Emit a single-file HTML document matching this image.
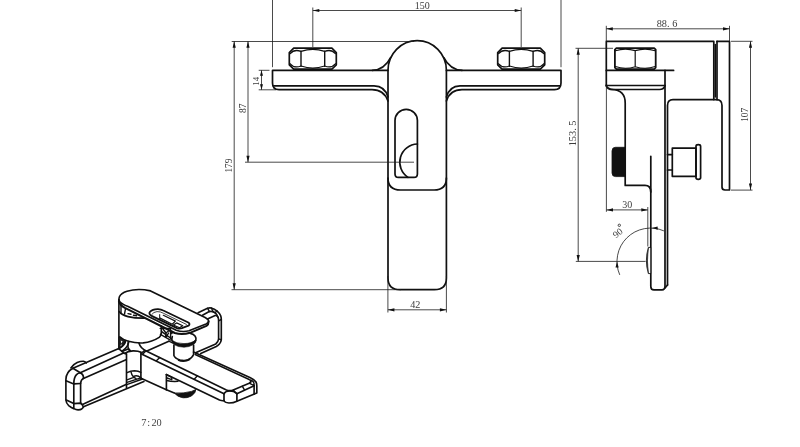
<!DOCTYPE html>
<html><head><meta charset="utf-8"><style>
html,body{margin:0;padding:0;background:#fff;}
body{width:800px;height:447px;overflow:hidden;font-family:"Liberation Serif",serif;}
svg{display:block;position:absolute;left:0;top:0;}

.o{fill:none;stroke:#111;stroke-width:1.7;stroke-linecap:round;stroke-linejoin:round;}
.t{fill:none;stroke:#111;stroke-width:1.2;stroke-linecap:round;stroke-linejoin:round;}
.iso .o{stroke-width:1.65}.iso .t{stroke-width:1.4}
.d{fill:none;stroke:#1c1c1c;stroke-width:0.8;}
.a{fill:#111;stroke:none;}
text{font-family:"Liberation Serif",serif;font-size:9.6px;fill:#3c3c3c;text-anchor:middle;}
</style></head><body>
<svg width="800" height="447" viewBox="0 0 800 447">
<rect width="800" height="447" fill="#fff"/>
<g opacity="0.999">
<defs>
<g id="nut">
<path class="o" style="stroke-width:1.7" d="M4.4,0 H42.6 L47,4.4 V16.6 L42.6,21 H4.4 L0,16.6 V4.4 Z"/>
<path class="t" style="stroke-width:1.4" d="M11.7,3 V18 M35.4,3 V18"/>
<path class="t" style="stroke-width:1.3" d="M0.9,5.4 Q5,0.6 11.7,3.2 Q23.5,-1 35.4,3.2 Q42,0.6 46.1,5.4"/>
<path class="t" style="stroke-width:1.3" d="M0.9,15.6 Q5,20.4 11.7,17.8 Q23.5,22 35.4,17.8 Q42,20.4 46.1,15.6"/>
</g>
</defs>

<!-- ===== FRONT VIEW ===== -->
<g id="front">
<use href="#nut" x="289.3" y="48.2"/>
<use href="#nut" x="497.7" y="48.2"/>
<!-- bar left -->
<path class="o" d="M388,70.4 H272.5 V83 Q272.5,89.6 279,89.6 H372 Q384,89.6 388,101"/>
<path class="o" d="M273.5,85.8 H374 Q385,86 388,97"/>
<!-- bar right -->
<path class="o" d="M446.4,70.4 H561 V83 Q561,89.6 554.5,89.6 H462 Q450,89.6 446.4,101"/>
<path class="o" d="M560,85.8 H460 Q449.5,86 446.4,97"/>
<!-- top fillets -->
<path class="o" d="M372.5,70.4 Q384.5,69.6 390.6,57.6"/>
<path class="o" d="M462,70.4 Q450,69.6 443.8,57.6"/>
<!-- handle -->
<path class="o" d="M388,70.3 A29.2,29.6 0 0 1 446.4,70.3 V178 Q446.4,190 434,190 H400.5 Q388,190 388,178 Z"/>
<!-- spout -->
<path class="o" d="M388,178 V278 Q388,289.7 400,289.7 H434.4 Q446.4,289.7 446.4,278 V178"/>
<!-- slot -->
<path class="o" d="M395,120.5 A11.2,11.2 0 0 1 417.4,120.5 V174 Q417.4,177.4 414,177.4 H398.4 Q395,177.4 395,174 Z"/>
<path class="o" d="M417.4,144 A18.2,18.2 0 0 0 408,177.4"/>
</g>

<!-- ===== FRONT DIMS ===== -->
<g id="fdims">
<path class="d" d="M231.7,41.5 H414"/>
<path class="d" d="M234.2,41.3 V289.7 M248,41.3 V162.2"/>
<path class="d" d="M245,162.2 H414"/>
<path class="d" d="M231.5,289.7 H401"/>
<path class="d" d="M272.5,0 V67.2 M561,0 V67.2"/>
<path class="d" d="M312.8,7.5 V47 M521.2,7.5 V47 M312.8,10.5 H521.2"/>
<path class="d" d="M258.7,70.3 H269.5 M258.7,89.8 H276 M261.5,70.3 V89.8"/>
<path class="d" d="M387.9,276 V312.5 M446.4,276 V312.5 M387.9,309.8 H446.4"/>
<path class="a" d="M234.2,41.3 l-1.6,6.5 h3.2z M248,41.3 l-1.6,6.5 h3.2z M234.2,289.7 l-1.6,-6.5 h3.2z M248,162.2 l-1.6,-6.5 h3.2z"/>
<path class="a" d="M312.8,10.5 l6.5,-1.6 v3.2z M521.2,10.5 l-6.5,-1.6 v3.2z"/>
<path class="a" d="M261.5,70.3 l-1.5,5.5 h3z M261.5,89.8 l-1.5,-5.5 h3z"/>
<path class="a" d="M387.9,309.8 l6.5,-1.6 v3.2z M446.4,309.8 l-6.5,-1.6 v3.2z"/>
<text x="422.2" y="8.8" style="font-size:10px">150</text>
<text x="415.3" y="307.8" style="font-size:10.2px">42</text>
<text transform="translate(245.9,108.3) rotate(-90)" style="font-size:9.5px">87</text>
<text transform="translate(232.4,165.6) rotate(-90)" style="font-size:9.3px">179</text>
<text transform="translate(259,81.3) rotate(-90)" style="font-size:8.9px">14</text>
</g>

<!-- ===== SIDE VIEW ===== -->
<g id="side">
<path class="o" style="stroke-width:1.8" d="M616.4,48.2 H654.2 L655.7,49.7 V67.6 L654.2,69.1 H616.4 L614.9,67.6 V49.7 Z"/>
<path class="t" d="M635.2,50.6 V66.8 M615.4,50.8 Q625,47.4 635.2,50.6 Q645.5,47.4 655.2,50.8 M615.4,66.5 Q625,69.9 635.2,66.7 Q645.5,69.9 655.2,66.5"/>
<path class="o" d="M606.3,86 V41.4 H713.8 V99.6"/>
<path class="o" d="M717,41.4 H729.5 V190 H725 Q722,190 722,187 V105.5 Q722,99.7 716.5,99.7 H673 Q667.5,99.7 667.5,105.5 V285"/>
<path class="o" d="M717,41.4 V99.7"/>
<path class="o" style="stroke-width:1.6" d="M715.3,44.6 V97"/>
<path class="o" d="M606.3,70.4 H673.6"/>
<path class="o" d="M606.3,85.5 H665"/>
<path class="o" d="M606.3,85 Q607,89.5 613,89.5 H659.5 Q664,89.5 665,85.5"/>
<path class="o" d="M612,89.5 Q625.2,90 625.2,103 V185.4 H645 Q650.8,185.4 650.8,192 V286.5 Q650.8,289.9 654,289.9 H662 Q665,289.9 665,286 V70.4"/>
<path class="o" d="M650.8,156.4 V192"/>
<path class="o" d="M667.5,285 L665,288"/>
<!-- black knob -->
<path d="M625.2,147.3 H615.5 Q612,147.3 612,151 V173 Q612,176.6 615.5,176.6 H625.2 Z" fill="#111" stroke="#111" stroke-width="0.8"/>
<!-- button -->
<path class="o" d="M667.5,154.6 H672.3 M667.5,170 H672.3"/>
<path class="o" d="M672.3,148.2 H696 V176.3 H672.3 Z"/>
<path class="o" d="M696,146.2 Q696,144.6 698.3,144.6 Q700.6,144.6 700.6,146.2 V177.7 Q700.6,179.3 698.3,179.3 Q696,179.3 696,177.7 Z"/>
<!-- aerator -->
<path d="M650.8,247.4 H648.3 Q644.5,260.5 648.3,273.6 H650.8 Z" fill="#444" stroke="#111" stroke-width="0.8"/>
<path d="M650.2,248 H649 Q647,260.5 649,273 H650.2 Z" fill="#fff" stroke="none"/>
</g>

<!-- ===== SIDE DIMS ===== -->
<g id="sdims">
<path class="d" d="M606.3,25.8 V41 M729.5,25.8 V41 M606.3,28.8 H729.5"/>
<path class="d" d="M731,41.3 H752.5 M731,190.1 H752.5 M750.5,41.3 V190.1"/>
<path class="d" d="M575.5,48.3 H613 M578.2,48.3 V261.4 M575.8,261.4 H645.6"/>
<path class="d" d="M606.4,86 V211.8 M647.8,207 V246.5 M606.5,209.9 H647.8"/>
<path class="d" d="M663.9,230.9 A33.5,33.5 0 0 0 619.75,274.9"/>
<path class="a" d="M606.3,28.8 l6.5,-1.6 v3.2z M729.5,28.8 l-6.5,-1.6 v3.2z"/>
<path class="a" d="M750.5,41.3 l-1.6,6.5 h3.2z M750.5,190.1 l-1.6,-6.5 h3.2z"/>
<path class="a" d="M578.2,48.3 l-1.6,6.5 h3.2z M578.2,261.4 l-1.6,-6.5 h3.2z"/>
<path class="a" d="M606.5,209.9 l6.5,-1.6 v3.2z M647.8,209.9 l-6.5,-1.6 v3.2z"/>
<path class="a" d="M651.8,228.1 l5.8,-1.6 l0.2,3.2z M617,261.6 l-1.5,6 l3.2,-0.1z"/>
<text x="667" y="26.6" style="font-size:10.3px">88. 6</text>
<text x="627.2" y="208" style="font-size:10px">30</text>
<text transform="translate(576.2,133.4) rotate(-90)" style="font-size:10.3px">153. 5</text>
<text transform="translate(748.1,114.8) rotate(-90)" style="font-size:9.4px">107</text>
<text transform="translate(619.7,235.4) rotate(-39)" style="font-size:9.6px">90</text>
<circle cx="619.3" cy="225.3" r="1.2" fill="none" stroke="#333" stroke-width="0.9"/>
</g>

<!-- ===== ISO VIEW ===== -->
<g id="iso" class="iso">

<!-- handle top plate -->
<path class="o" d="M128.1,306.5 Q122,304.2 119.6,301.5 Q118.3,299.5 119.3,297 Q121,293 127,291.2 Q138,288 150.6,290.9 L205.1,317.5 Q209,319.8 208.6,321.5 Q208.3,323 206,324 L189,330.8 Q182.5,332.5 176.3,330.3 Z"/>
<path class="o" style="stroke-width:2" d="M118.9,301 Q119.5,305 124.9,307.9 L174.8,333 Q182,335.2 190,332.8 L206.5,325.9 Q208.6,324.7 208.6,321.5"/>
<!-- slot in handle -->
<path class="o" style="stroke-width:1.8" d="M152.1,316.1 Q148.3,314.2 149.8,312 Q152.5,309 158,309.1 Q161,309.3 163.3,310.5 L188.3,322.5 Q190.6,324 188.5,325.7 L181.9,328.2 Q179.5,329 177,328.1 Z"/>
<path class="t" style="stroke-width:0.8" d="M151.9,314.3 Q153.5,312 157,311.6 Q160.5,311.5 163.3,313.2 L186.4,324.4"/>
<path class="t" style="stroke-width:1" d="M159.7,314.6 V319"/>
<path class="o" style="stroke-width:1.2" d="M163.3,315.3 L175.4,321.1 L172.2,324.2 L160.1,318.1 M176.6,322.9 L182.7,325.8 L179.5,327.8 L173.4,325 Z"/>
<!-- main cylinder -->
<path class="o" d="M118.9,299.5 V348.5"/>
<path class="o" d="M119.8,336.8 Q123,340 128.5,341.3 Q136,343.3 143.2,342.9 Q152,342 159.2,337.4 Q161,335.8 161.3,333.5"/>
<path class="o" d="M161.3,333.5 V326"/>
<path class="o" style="stroke-width:1.7" d="M119.2,311.6 Q121.5,315 128,316.6 Q135,318.3 144,318.2"/>
<path class="t" d="M121,304.5 V313.5 M125.5,308.8 L124.5,314 M128,313.6 L131,314.2 M133.5,315.3 L136.5,315.8"/>
<!-- under-handle mechanism -->
<path class="t" d="M160.2,328.4 H170.5 M160.4,334.4 L170.4,340.1 M161.7,331.6 L171.8,339 M166,337 Q164.8,333 168.5,331 Q171.2,330.2 172,333.5 M166,337.4 L168.6,333 M170.6,329.5 V338.5 M163,329 L166,333"/>
<!-- knob -->
<path class="o" d="M172.3,336.6 Q171.4,338.6 172,340.8 Q176,345.3 184,345.3 Q192,345 195.8,340.4 Q196.5,338.2 195.2,336.2 Q193.8,334.4 190.5,333.4"/>
<path d="M171.9,340.2 Q176,343.6 184,343.6 Q192,343.4 195.9,339.8 Q196.6,342.8 193.5,344.6 Q189,347.2 184,347.2 Q178,347.2 174,344.6 Q171.6,343 171.9,340.2 Z" fill="#111" stroke="#111" stroke-width="0.6"/>
<path class="o" d="M173.9,345 V355.5 Q175,358.5 180,360 Q184.5,361 188,359.8 Q192.3,358 193.6,354.5 V345"/>
<path d="M178,360 Q184,362.5 190,359.3" fill="none" stroke="#111" stroke-width="1.8"/>
<!-- back arm -->
<path class="o" d="M198.1,312.7 L207.5,308.3 Q209.5,307.5 211.3,308 Q214.5,309 216.9,310.8 Q219.5,313 220.7,315.8 Q221.3,317.5 221.3,319.5 V339.6 Q221,342.3 219.4,344 Q218,345.6 216.3,346.5 L200.7,353.6"/>
<path class="o" d="M202.5,315.2 L208.8,311.8 Q210.5,311.2 212.5,311.6 Q214,312 215.1,312.7 Q217.3,314.8 218.2,317.7 Q218.6,319 218.6,320.8 V339 Q218.3,341.8 215.7,344 L195.6,352.8"/>
<path class="o" d="M207.5,318.9 L215.1,315.5 Q216.8,315.2 218,317.2"/>
<path class="t" d="M207.5,308.3 L209.6,311.6 M211.3,308 L213.2,311.8 M216.9,310.8 L215.1,312.9 M221.3,319.5 L218.6,320.8 M221.3,339.6 L218.6,339"/>
<!-- back arm lower lines toward spout -->
<!-- center -->
<path class="o" d="M146.9,350.9 L168.8,341.2"/>
<path d="M119,337 L125.4,340.4 Q125.2,344.5 119,348.6 Z" fill="#222" stroke="#111" stroke-width="1"/>
<path d="M120.8,340.5 L122.6,341.6 L121.2,343.6 Z M120.6,345 L122.2,344.2 L120.8,346.6 Z" fill="#fff"/>
<path class="o" d="M125.6,340.5 Q125.5,344.8 119,348.9"/>
<path class="o" d="M128.6,341.5 Q128.6,346 123.4,350.2 L122.1,351.4"/>
<path class="o" d="M119,348.9 L124.3,353.3 L126.2,354"/>
<path class="o" d="M122.6,351.2 L128,349 L130.3,350.9"/>
<path class="o" d="M128.6,341.5 Q126.5,347.5 130.3,350.9"/>
<path class="o" d="M139,343.3 Q140.5,348.5 146.7,351.2"/>
<path class="o" d="M124.5,353.4 Q128,351.3 133,350.9 Q138.5,350.8 140.9,352.3"/>
<path class="o" d="M126.5,353.8 V388 M140.9,352.3 V377.8"/>
<path class="t" d="M141.6,353 L144.7,350.2 M142.8,353.9 L145.9,351.1"/>
<path class="t" d="M127,372.7 Q130.5,370.8 134.5,370.7 Q138.5,370.9 140.8,372.4 M131.1,372.1 Q131.6,375 133.1,376.4 Q134.3,377.6 135.8,378.4 M133.5,376.5 Q137.3,374.6 140.8,377.8 M127,379.8 L134.3,377.2 M127,382.4 L140.8,377.8 M126.7,384.7 L142.5,379"/>
<!-- left arm -->
<path class="o" d="M70.9,367.9 Q73,364.6 77.2,362.6 Q80.5,361.2 83.5,361.3 Q85.5,361.6 86.2,363"/>
<path class="o" d="M72.9,368.3 L118.8,348.5"/>
<path class="o" d="M80.3,372.8 L123.5,353"/>
<path class="o" d="M83.4,378.4 L126,359.8"/>
<path class="o" d="M72.9,368.3 Q66,372 65.9,379.6 V400 Q66.2,403.5 68.7,405.6 Q71.5,407.8 73.8,408.6 Q76,409.8 78.1,409.9 Q80.5,409.8 81.7,409 Q82.8,408 83.5,406.8 L143.9,381.5"/>
<path class="o" d="M83.4,378.4 Q80.8,380 80.6,383.5 V402.2 Q81,404.8 83.5,404.1 L126,384.4"/>
<path class="o" d="M72.9,368.3 L80.3,372.8 Q84,375 83.4,378.4"/>
<path class="o" d="M66,380.8 L73.8,383.9 L80.6,383.5"/>
<path class="o" d="M73.8,383.9 V408.5"/>
<path class="o" d="M66.3,400 L73.8,403.6 L80.6,403.1 Q82.5,404.5 83.3,406.8"/>
<path class="o" d="M73.8,383.9 Q73.8,377.5 76.5,374.6 Q78,373 80.3,372.8"/>
<!-- spout -->
<path class="o" d="M146.7,351.2 L226.4,389.9 Q229.5,391.3 233.2,390 L249.2,383.2 Q251.5,382 250.7,380.3"/>
<path class="o" d="M141.5,354 L224,393.7"/>
<path class="o" d="M224,393.7 Q225.5,391 229.5,391 Q234,391 236.9,393.7 L254.1,385.7"/>
<path class="o" d="M193.5,352 L250.4,377.7 Q254.5,379.6 256,382 Q256.8,383.5 256.8,386 V393.1 L236.9,401.2 Q233.5,403 229,403 Q224.5,402.5 224,400.6"/>
<path class="t" d="M195.2,354.5 L249.2,379.5 Q250.7,380.4 250.7,382"/>
<path class="o" d="M224,393.7 V400.6 M236.9,393.7 V401.2 M254.1,385.7 V394.2"/>
<path class="o" d="M166.4,374.6 L219.5,400 Q222,401 224,400.6"/>
<path class="t" d="M233.2,390 L236.9,393.7 M242.4,386.3 L244.3,389.6 M249.2,383.2 L254.1,385.7 M250.7,380.3 Q254.5,381 254.1,385.7"/>
<path class="t" d="M156.6,360.6 L159.8,357.5 M194.2,379.2 L197.4,375.7"/>
<path class="o" d="M140.9,377.8 L141,378.2 L166.4,389.8 V374.6"/>
<path class="o" d="M166.4,389.8 L174.3,393"/>
<path class="t" d="M166.4,374.6 L171.8,377.3 V379.6 L167,378 M166.6,380.5 Q172,381.8 178,381.3"/>
<path d="M174.3,393 Q183.6,393.6 191.5,391.4 L195.8,389.5 Q196,392.5 191.5,396 Q187,398.3 183,397.8 Q177.5,397 174.3,393 Z" fill="#111" stroke="#111" stroke-width="0.8"/>
<path class="t" d="M168.8,341.2 L172.5,342.8"/>

</g>
<text x="141.3" y="426.2" style="font-size:10.3px;text-anchor:start;fill:#444">7</text><text x="148.8" y="426.2" style="font-size:10.3px;fill:#444">:</text><text x="151.4" y="426.2" style="font-size:10.3px;text-anchor:start;fill:#444">20</text>
</g>
</svg>
</body></html>
